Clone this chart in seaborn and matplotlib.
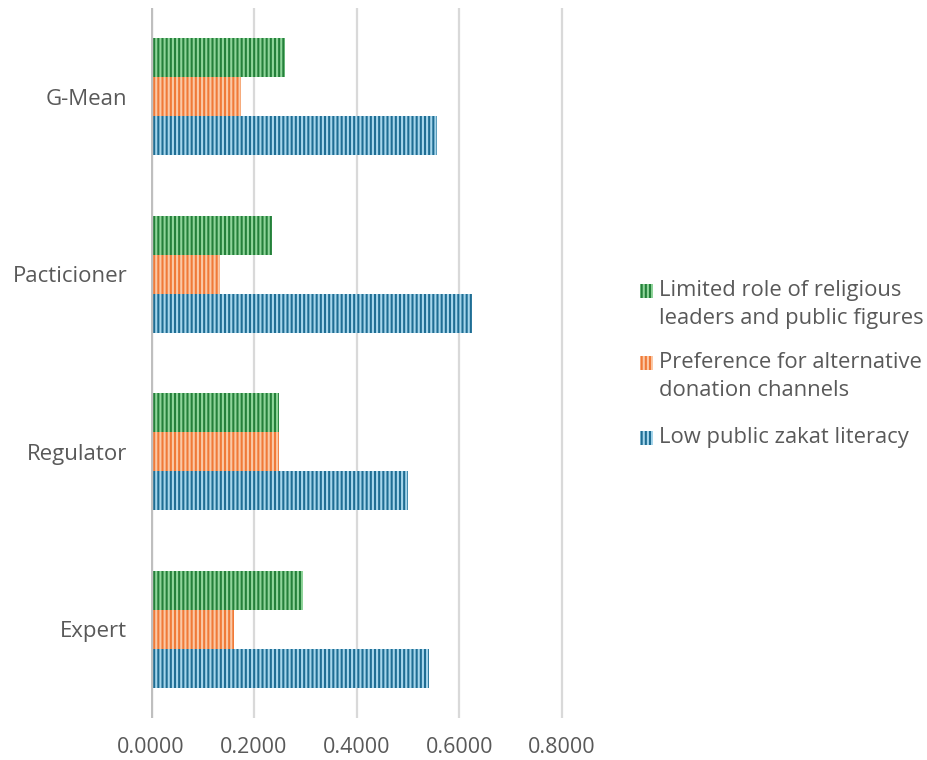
import matplotlib
matplotlib.use("Agg")
import matplotlib.pyplot as plt
import matplotlib.patches as mpatches
import seaborn as sns
import pandas as pd

categories = ["G-Mean", "Pacticioner", "Regulator", "Expert"]
series = [
    "Limited role of religious\nleaders and public figures",
    "Preference for alternative\ndonation channels",
    "Low public zakat literacy",
]
limited_role = [0.2608, 0.2360, 0.2500, 0.2965]
preference_alt = [0.1757, 0.1340, 0.2500, 0.1616]
low_literacy = [0.5570, 0.6255, 0.5010, 0.5405]
xticks = [0.0, 0.2, 0.4, 0.6, 0.8]

base_colors = ["#24803a", "#f07a38", "#1f6d93"]
light_colors = ["#8fd59a", "#fbc9a6", "#a6d6ec"]
text_color = "#595959"

rows = []
for s, vals in zip(series, [limited_role, preference_alt, low_literacy]):
    for c, v in zip(categories, vals):
        rows.append({"category": c, "series": s, "value": v})
df = pd.DataFrame(rows)

sns.set_style("white")
plt.rcParams["font.family"] = ["Open Sans", "DejaVu Sans"]
plt.rcParams["hatch.linewidth"] = 1.5

fig = plt.figure(figsize=(9.28, 7.6), dpi=100)
ax = fig.add_axes([151 / 928, 1 - 718 / 760, (0.81 * 513.75) / 928, 710 / 760])

sns.barplot(data=df, y="category", x="value", hue="series", orient="h",
            order=categories, hue_order=series, palette=base_colors,
            saturation=1, width=0.66, legend=False, ax=ax, zorder=3)

for i, cont in enumerate(ax.containers):
    for bar in cont:
        bar.set_edgecolor(light_colors[i])
        bar.set_hatch("||||")
        bar.set_linewidth(0)

ax.set_xlim(0, 0.81)
ax.set_ylim(3.5, -0.5)
ax.set_xticks(xticks)
ax.set_xticklabels([f"{t:.4f}" for t in xticks])
ax.set_xlabel("")
ax.set_ylabel("")
for sp in ax.spines.values():
    sp.set_visible(False)
ax.grid(False)
for t in xticks[1:]:
    ax.axvline(t, color="#d9d9d9", lw=1.6, zorder=1)
ax.axvline(0, color="#bfbfbf", lw=2.4, zorder=4)
ax.tick_params(axis="x", length=0, pad=14, labelsize=15.5, labelcolor=text_color)
ax.tick_params(axis="y", length=0, pad=17, labelsize=16, labelcolor=text_color)

# legend (swatch aligned with first line of each entry)
entries = [(series[0], 291), (series[1], 363), (series[2], 438)]
for i, (lab, yc) in enumerate(entries):
    sw = mpatches.Rectangle((640 / 928, 1 - (yc + 7) / 760), 13 / 928, 14 / 760,
                            transform=fig.transFigure, facecolor=base_colors[i],
                            edgecolor=light_colors[i], hatch="||||", linewidth=0)
    fig.patches.append(sw)
    fig.text(659 / 928, 1 - (yc - 11) / 760, lab, ha="left", va="top",
             fontsize=15.8, color=text_color, linespacing=1.43)

fig.savefig("out.png", dpi=100)
